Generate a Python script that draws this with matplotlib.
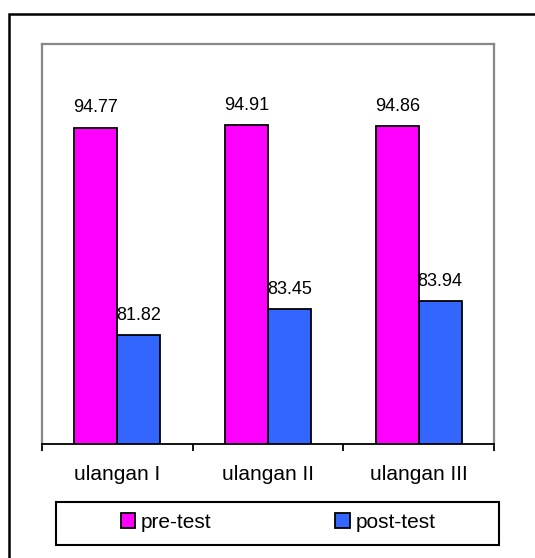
import matplotlib
matplotlib.use("Agg")
import matplotlib.pyplot as plt
from matplotlib.patches import Rectangle
import numpy as np

plt.rcParams['font.family'] = ['Liberation Sans', 'DejaVu Sans']

# data
categories = ["ulangan I", "ulangan II", "ulangan III"]
pre_test = [94.77, 94.91, 94.86]
post_test = [81.82, 83.45, 83.94]
series_names = ["pre-test", "post-test"]

W, H = 535, 558
fig = plt.figure(figsize=(W / 100, H / 100), dpi=100)

# outer chart border (runs off the right and bottom edges)
fig.patches.append(Rectangle((9 / W, -0.1), 1.2, 1 - 14 / H + 0.1, transform=fig.transFigure,
                             fill=False, edgecolor="black", linewidth=1.8))

ax = fig.add_axes([42 / W, 1 - 444 / H, (494 - 42) / W, (444 - 44) / H])

x = np.arange(len(categories))
bw = 0.285
b1 = ax.bar(x - bw / 2, pre_test, bw, color="#FF00FF", edgecolor="black", linewidth=1.3)
b2 = ax.bar(x + bw / 2, post_test, bw, color="#3366FF", edgecolor="black", linewidth=1.3)

for bars, vals in [(b1, pre_test), (b2, post_test)]:
    for r, v in zip(bars, vals):
        ax.annotate(f"{v:.2f}", (r.get_x() + r.get_width() / 2, v), xytext=(0, 11),
                    textcoords="offset points", ha="center", va="baseline", fontsize=13)

ax.set_ylim(75, 100)
ax.set_xlim(-0.5, len(categories) - 0.5)
ax.set_yticks([])

# ticks at category boundaries, labels in between
ax.set_xticks(np.arange(len(categories) + 1) - 0.5)
ax.set_xticklabels([])
ax.tick_params(axis="x", which="major", direction="out", length=5, width=1.3, color="black")
ax.set_xticks(x, minor=True)
ax.set_xticklabels(categories, minor=True, fontsize=15)
ax.tick_params(axis="x", which="minor", length=0, pad=15)

for s in ["left", "top", "right"]:
    ax.spines[s].set_color("#888888")
    ax.spines[s].set_linewidth(1.6)
ax.spines["bottom"].set_color("black")
ax.spines["bottom"].set_linewidth(1.3)

# legend box
fig.patches.append(Rectangle((56 / W, 1 - 545 / H), (499 - 56) / W, 43 / H, transform=fig.transFigure,
                             fill=False, edgecolor="black", linewidth=1.5))
leg = fig.legend([b1, b2], series_names, loc="center", bbox_to_anchor=(278 / W, 1 - 522 / H),
                 ncol=2, frameon=False, fontsize=15, handlelength=0.7, handleheight=0.7,
                 handletextpad=0.25, columnspacing=5.96)

fig.savefig("out.png", dpi=100)
